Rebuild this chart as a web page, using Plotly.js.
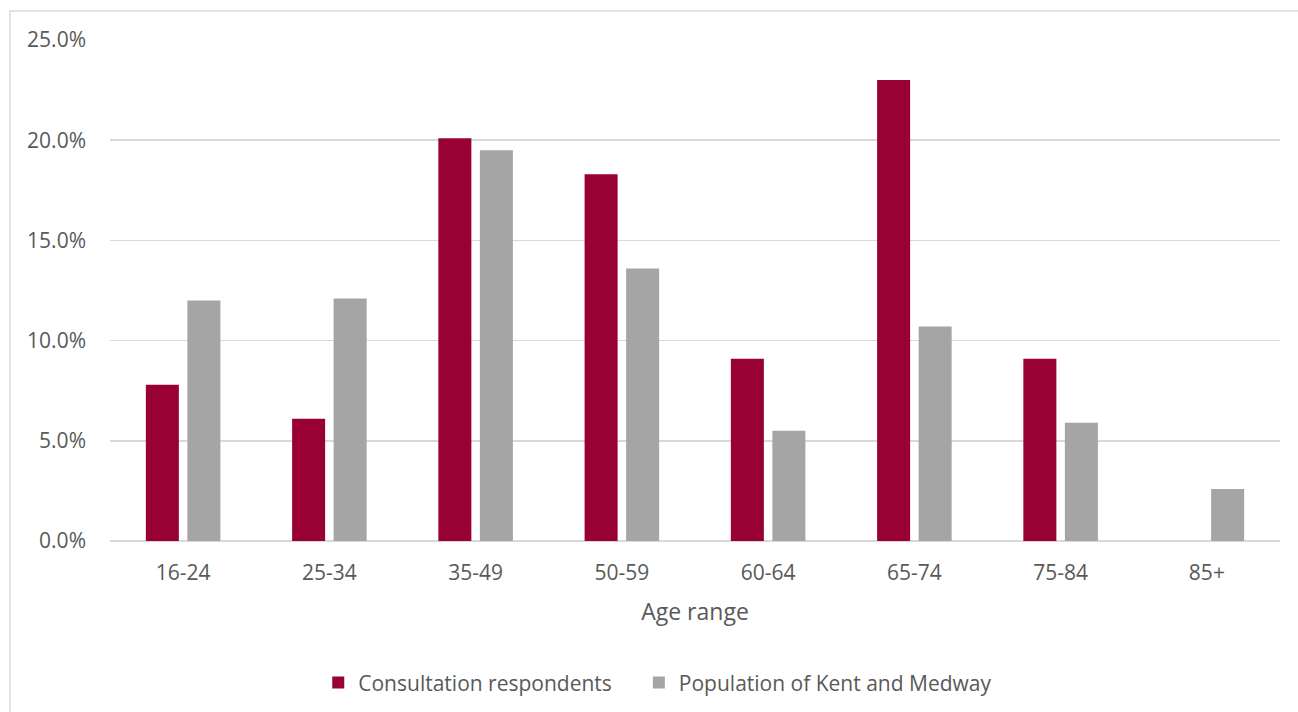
<!DOCTYPE html>
<html>
<head>
<meta charset="utf-8">
<script src="https://cdn.plot.ly/plotly-3.0.1.min.js"></script>
<style>
html,body{margin:0;padding:0;background:#fff;}
#chart{width:1298px;height:712px;}
</style>
</head>
<body>
<div id="chart"></div>
<script>
const categories = ["16-24", "25-34", "35-49", "50-59", "60-64", "65-74", "75-84", "85+"];
const respondents = [7.8, 6.1, 20.1, 18.3, 9.1, 23.0, 9.1, 0];
const population = [12.0, 12.1, 19.5, 13.6, 5.5, 10.7, 5.9, 2.6];
const yTicks = [0, 5, 10, 15, 20, 25];
const yTickLabels = ["0.0%", "5.0%", "10.0%", "15.0%", "20.0%", "25.0%"];

const font = "Open Sans, Lato, sans-serif";
const textColor = "#595959";

const traces = [
  {type: "bar", name: "Consultation respondents", x: categories, y: respondents,
   marker: {color: "#990033"}, legend: "legend"},
  {type: "bar", name: "Population of Kent and Medway", x: categories, y: population,
   marker: {color: "#A5A5A5"}, legend: "legend2"}
];

const legendFont = {family: font, size: 21, color: textColor};

const layout = {
  width: 1298, height: 712,
  margin: {l: 110, r: 18, t: 40, b: 171, autoexpand: false},
  paper_bgcolor: "#fff", plot_bgcolor: "#fff",
  font: {family: font, color: textColor, size: 21},
  barmode: "group", bargap: 0.432, bargroupgap: 0.205,
  showlegend: true,
  legend: {orientation: "h", x: 0.178, xanchor: "left", y: -0.283, yanchor: "middle",
           font: legendFont, bgcolor: "rgba(0,0,0,0)"},
  legend2: {orientation: "h", x: 0.452, xanchor: "left", y: -0.283, yanchor: "middle",
           font: legendFont, bgcolor: "rgba(0,0,0,0)"},
  xaxis: {type: "category", showgrid: false, showline: false, zeroline: false, ticks: "",
          automargin: false,
          ticklabelstandoff: 17, tickfont: {size: 21, color: textColor},
          title: {text: "Age range", font: {size: 23, color: textColor}, standoff: 18},
          fixedrange: true},
  yaxis: {range: [0, 25], tickvals: yTicks, ticktext: yTickLabels, automargin: false,
          showgrid: true, gridcolor: "#d9d9d9", gridwidth: 1.5,
          zeroline: true, zerolinecolor: "#d9d9d9", zerolinewidth: 1.5,
          showline: false, ticks: "", ticklabelstandoff: 23,
          tickfont: {size: 21, color: textColor}, fixedrange: true},
  shapes: [{type: "rect", xref: "paper", yref: "paper",
            x0: -0.0855, x1: 1.3, y0: -0.5, y1: 1.0579,
            line: {color: "#d9d9d9", width: 1.5}, fillcolor: "rgba(0,0,0,0)", layer: "below"}],
  hovermode: false
};

Plotly.newPlot("chart", traces, layout, {displayModeBar: false, staticPlot: true});
</script>
</body>
</html>
